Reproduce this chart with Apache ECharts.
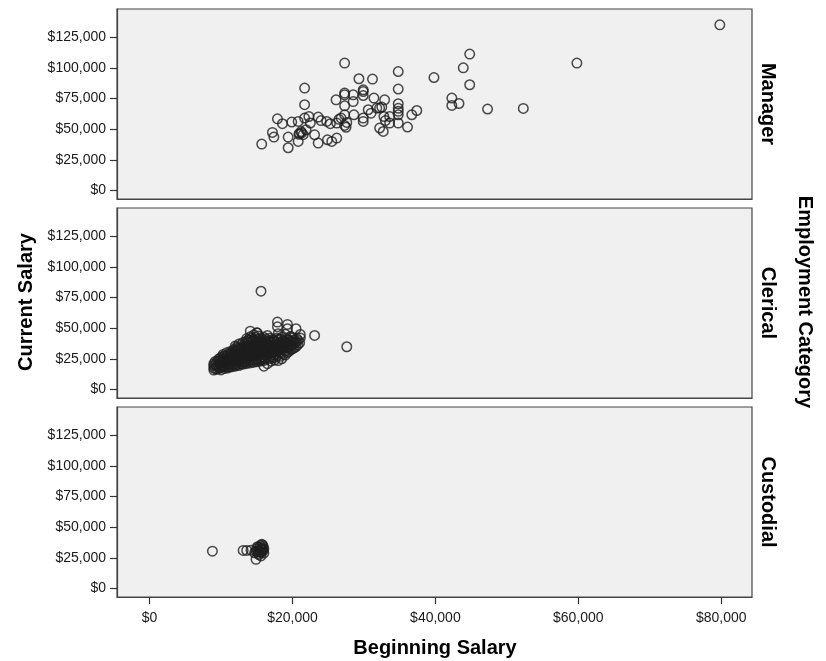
<!DOCTYPE html>
<html>
<head>
<meta charset="utf-8">
<script src="https://cdn.jsdelivr.net/npm/echarts@6/dist/echarts.min.js"></script>
<style>
html,body{margin:0;padding:0;background:#fff;}
#chart{width:826px;height:661px;}
</style>
</head>
<body>
<div id="chart"></div>
<script>
const categories = ['Manager', 'Clerical', 'Custodial'];
const xTicks = [0, 20000, 40000, 60000, 80000];
const yTicks = [0, 25000, 50000, 75000, 100000, 125000];
const xTitle = 'Beginning Salary';
const yTitle = 'Current Salary';
const panelTitle = 'Employment Category';

const managerData = [
  [15700, 37800], [17200, 47300], [17400, 43500], [17900, 58400], [18600, 54400],
  [19400, 43500], [19400, 34800], [19900, 55800], [20800, 40000], [21000, 46500],
  [21300, 47000], [21500, 45500], [21700, 83500], [21700, 69900], [21700, 59000],
  [20800, 56300], [22300, 60300], [21900, 49500], [23100, 45400], [23600, 59800],
  [23600, 38600], [24800, 56300], [24900, 41300], [25300, 54400], [25500, 40000],
  [26100, 73900], [26200, 42700], [26200, 54900], [26800, 59000], [27300, 53000],
  [27500, 51500], [27600, 55500], [27300, 103900], [27300, 78000], [27300, 69000],
  [27300, 61700], [27300, 79400], [28500, 78000], [28500, 72500], [28600, 61700],
  [29300, 91100], [29900, 80700], [29900, 82100], [29900, 77400], [29900, 59000],
  [29900, 56300], [30600, 65800], [31200, 90800], [31400, 75300], [31800, 67200],
  [32200, 67200], [32500, 68000], [32200, 50900], [32700, 48100], [32900, 73900],
  [32800, 60300], [33600, 60300], [33600, 54900], [34800, 97000], [34800, 82700],
  [34800, 70700], [34800, 67000], [34800, 64500], [34800, 61700], [34800, 54900],
  [36100, 51700], [36700, 61700], [37400, 65200], [39800, 92100], [42300, 75300],
  [42300, 69300], [43300, 70900], [43900, 100000], [44800, 111200], [44800, 86200],
  [47300, 66400], [52300, 66900], [59800, 103900], [79800, 135100], [22500, 55000],
  [24000, 57000], [31000, 63000], [33000, 57000], [26500, 58000], [21200, 48000],
  [20900, 45800]
];

const clericalData = [
  [9000, 15800], [9000, 17500], [9000, 19500], [9000, 21000], [9200, 22800],
  [9500, 16500], [9500, 18500], [9600, 20500], [9500, 23000], [9700, 25000],
  [10000, 15900], [10000, 17800], [10100, 19600], [10000, 21500], [10200, 23500], [10000, 26000], [10300, 28500],
  [10500, 17000], [10500, 19000], [10600, 21000], [10500, 23000], [10700, 25500], [10500, 27500], [10800, 30000],
  [11000, 17500], [11000, 19500], [11100, 21500], [11000, 24000], [11200, 26000], [11000, 28500], [11300, 31000],
  [11500, 18500], [11500, 20500], [11600, 22500], [11500, 25000], [11700, 27000], [11500, 29500], [11800, 32500],
  [12000, 19000], [12000, 21000], [12100, 23000], [12000, 25500], [12200, 28000], [12000, 30500], [12300, 33500], [12000, 35500],
  [12500, 19500], [12500, 22000], [12600, 24000], [12500, 26500], [12700, 29000], [12500, 31500], [12800, 34000], [12500, 37000],
  [13000, 20500], [13000, 22500], [13100, 25000], [13000, 27000], [13200, 29500], [13000, 32000], [13300, 35000], [13000, 38000],
  [13500, 21000], [13500, 23500], [13600, 25500], [13500, 28000], [13700, 30500], [13500, 33000], [13800, 36000], [13500, 39000], [13600, 41500],
  [14000, 21500], [14000, 24000], [14100, 26500], [14000, 29000], [14200, 31500], [14000, 34000], [14300, 37000], [14000, 40000], [14100, 43000],
  [14500, 22000], [14500, 24500], [14600, 27000], [14500, 29500], [14700, 32000], [14500, 34500], [14800, 37500], [14500, 40500], [14600, 44500],
  [15000, 22500], [15000, 25000], [15100, 27500], [15000, 30000], [15200, 32500], [15000, 35000], [15300, 38000], [15000, 41000], [15100, 46000],
  [15500, 23000], [15500, 25500], [15600, 28000], [15500, 30500], [15700, 33000], [15500, 36000], [15800, 39000], [15500, 42000],
  [16000, 19000], [16000, 23500], [16000, 26000], [16100, 28500], [16000, 31000], [16200, 34000], [16000, 36500], [16300, 39500], [16000, 42500],
  [16500, 21000], [16500, 26500], [16600, 29000], [16500, 31500], [16700, 34500], [16500, 37000], [16800, 40000],
  [17000, 23000], [17000, 27000], [17100, 30000], [17000, 32500], [17200, 35000], [17000, 38000], [17300, 41000],
  [17500, 24000], [17500, 28000], [17600, 31000], [17500, 34000], [17700, 36500], [17500, 39000], [17800, 42000],
  [18000, 23500], [18000, 28500], [18100, 32000], [18000, 35000], [18200, 38000], [18000, 41000],
  [18500, 25000], [18500, 30000], [18600, 33500], [18500, 36500], [18700, 39500], [18500, 42500],
  [19000, 28000], [19000, 31500], [19100, 35000], [19000, 38000], [19200, 41000],
  [19500, 31000], [19500, 34000], [19600, 37500], [19500, 40500], [19700, 43000],
  [20000, 33000], [20000, 36000], [20100, 39000], [20000, 42000],
  [20500, 35000], [20500, 38500], [20600, 41500],
  [21000, 38000], [21100, 42000],
  [9250, 16700], [9250, 20200], [9750, 17200], [9750, 21800], [9800, 23800],
  [10250, 18400], [10250, 22300], [10400, 24800], [10300, 26800], [10750, 18200],
  [10750, 22200], [10800, 24300], [10800, 27000], [11250, 18600], [11250, 22800],
  [11300, 25200], [11300, 27800], [11500, 30500], [11750, 19600], [11750, 23800],
  [11800, 26000], [11900, 28600], [11900, 31300], [12250, 20200], [12250, 24500],
  [12300, 27000], [12400, 29600], [12300, 32300], [12200, 34600], [12750, 20900],
  [12750, 25200], [12800, 27800], [12900, 30400], [12900, 33000], [12800, 36000],
  [13250, 21700], [13250, 26000], [13300, 28600], [13400, 31200], [13400, 34000],
  [13300, 37000], [13750, 22400], [13750, 26800], [13800, 29400], [13900, 32000],
  [13900, 34900], [13800, 38000], [13800, 40500], [14250, 22800], [14250, 27600],
  [14300, 30200], [14400, 32800], [14400, 35800], [14300, 38800], [14300, 41800],
  [14750, 23300], [14750, 28200], [14800, 30900], [14900, 33600], [14900, 36300],
  [14800, 39300], [14800, 42500], [15250, 23800], [15250, 28800], [15300, 31600],
  [15400, 34300], [15400, 37000], [15300, 40000], [15250, 43500], [15750, 24300],
  [15750, 29300], [15800, 32000], [15900, 35000], [15900, 37700], [15800, 40800],
  [16250, 24800], [16250, 29800], [16300, 32600], [16400, 35400], [16400, 38200],
  [16300, 41200], [16750, 25000], [16750, 30300], [16800, 33000], [16900, 36000],
  [16900, 38800], [16800, 41800], [17250, 25800], [17250, 31000], [17300, 33800],
  [17400, 36600], [17400, 39500], [17750, 26500], [17750, 31800], [17800, 34800],
  [17900, 37500], [17900, 40200], [18250, 27000], [18250, 32600], [18300, 35500],
  [18400, 38600], [18400, 41200], [18750, 28500], [18750, 33200], [18800, 36200],
  [18900, 39300], [19250, 30000], [19250, 34200], [19300, 37000], [19400, 40000],
  [19750, 32500], [19750, 36000], [19800, 39000], [20250, 34000], [20250, 37500],
  [20300, 40600], [20750, 36500], [20800, 40000],
  [15600, 80100], [27600, 34800], [23100, 44000], [21100, 44800], [20500, 49500],
  [19300, 53000], [19300, 49500], [17900, 54900], [17900, 51100], [14100, 47500],
  [15000, 46200], [19000, 45000], [18000, 45500], [16500, 44000]
];

const custodialData = [
  [8800, 30400], [13100, 31000], [13600, 31000], [14200, 31200], [14900, 23700],
  [14700, 29000], [14900, 30500], [15000, 32500], [15100, 34000], [15200, 28500],
  [15300, 31000], [15400, 33500], [15500, 35000], [15500, 30000], [15600, 32000],
  [15700, 29500], [15750, 31500], [15800, 33000], [15800, 35500], [15900, 30800],
  [16000, 28800], [16000, 32300], [15300, 27500], [15600, 26500], [15900, 34200],
  [15100, 30000], [15700, 36000]
];

const seriesData = [managerData, clericalData, custodialData];

const FONT = '"Liberation Sans", Arial, sans-serif';
const money = v => '$' + Math.round(v).toLocaleString('en-US');

const gridTops = [9, 208, 407];
const grids = gridTops.map(t => ({
  left: 117, width: 635, top: t, height: 190,
  show: true, backgroundColor: '#f0f0f0', borderColor: '#444', borderWidth: 1.2
}));

const xAxes = categories.map((c, i) => ({
  type: 'value', gridIndex: i, min: -4550, max: 84300,
  splitLine: { show: false },
  axisLine: { show: true, onZero: false, lineStyle: { color: '#444', width: 1.2 } },
  axisTick: { show: i === 2, length: 7, customValues: xTicks, lineStyle: { color: '#333', width: 1.2 } },
  axisLabel: { show: i === 2, customValues: xTicks, formatter: money, margin: 14,
    fontFamily: FONT, fontSize: 14, color: '#1a1a1a' }
}));

const yAxes = categories.map((c, i) => ({
  type: 'value', gridIndex: i, min: -7000, max: 148000,
  splitLine: { show: false },
  axisLine: { show: true, onZero: false, lineStyle: { color: '#444', width: 1.2 } },
  axisTick: { show: true, length: 7, customValues: yTicks, lineStyle: { color: '#333', width: 1.2 } },
  axisLabel: { show: true, customValues: yTicks, formatter: money, margin: 11,
    fontFamily: FONT, fontSize: 14, color: '#1a1a1a' }
}));

const series = categories.map((c, i) => ({
  name: c, type: 'scatter', xAxisIndex: i, yAxisIndex: i,
  data: seriesData[i], symbol: 'circle', symbolSize: 9.5,
  itemStyle: { color: 'rgba(0,0,0,0)', borderColor: '#1e1e1e', borderWidth: 1.5 },
  emphasis: { disabled: true }, silent: true, animation: false
}));

const panelCenters = gridTops.map(t => t + 95);
const titleStyle = t => ({ text: t, font: 'bold 20px ' + FONT, fill: '#000',
  textAlign: 'center', textVerticalAlign: 'middle', align: 'center', verticalAlign: 'middle' });
const graphics = [
  { type: 'text', x: 26, y: 302, rotation: Math.PI / 2, style: titleStyle(yTitle) },
  { type: 'text', x: 435, y: 648, style: titleStyle(xTitle) },
  { type: 'text', x: 805, y: 302, rotation: -Math.PI / 2, style: titleStyle(panelTitle) }
].concat(categories.map((c, i) => ({
  type: 'text', x: 768, y: panelCenters[i], rotation: -Math.PI / 2, style: titleStyle(c)
})));

const chart = echarts.init(document.getElementById('chart'), null, { renderer: 'canvas' });
chart.setOption({
  animation: false,
  backgroundColor: '#fff',
  grid: grids,
  xAxis: xAxes,
  yAxis: yAxes,
  series: series,
  graphic: graphics
});
</script>
</body>
</html>
